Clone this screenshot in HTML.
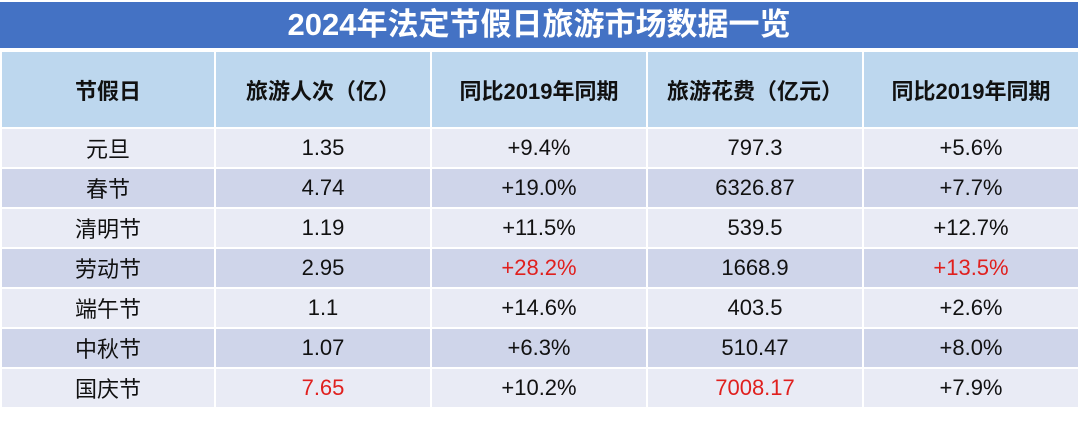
<!DOCTYPE html>
<html><head><meta charset="utf-8"><style>
body{margin:0;width:1080px;height:445px;background:#fff;overflow:hidden;font-family:"Liberation Sans","Noto Sans CJK SC",sans-serif;}
#title{position:absolute;left:0;top:2px;width:1078px;height:46px;background:#4472C4;color:#fff;font-weight:bold;font-size:31px;text-align:center;line-height:46px;}
table{position:absolute;left:0;top:50px;border-collapse:collapse;width:1078px;table-layout:fixed;}
td,th{border:2px solid #fff;text-align:center;color:#111;font-size:22px;padding:0;}
th{background:#BDD7EE;height:75px;font-weight:bold;}
tr.o td{background:#E9EBF5;height:38px;}
tr.e td{background:#CFD5EA;height:38px;}
.r{color:#E0201E;}
</style></head><body>
<div id="title">2024年法定节假日旅游市场数据一览</div>
<table>
<colgroup><col style="width:214px"><col style="width:216px"><col style="width:216px"><col style="width:216px"><col style="width:216px"></colgroup>
<tr><th>节假日</th><th>旅游人次（亿）</th><th>同比2019年同期</th><th>旅游花费（亿元）</th><th>同比2019年同期</th></tr>
<tr class="o"><td>元旦</td><td>1.35</td><td>+9.4%</td><td>797.3</td><td>+5.6%</td></tr>
<tr class="e"><td>春节</td><td>4.74</td><td>+19.0%</td><td>6326.87</td><td>+7.7%</td></tr>
<tr class="o"><td>清明节</td><td>1.19</td><td>+11.5%</td><td>539.5</td><td>+12.7%</td></tr>
<tr class="e"><td>劳动节</td><td>2.95</td><td class="r">+28.2%</td><td>1668.9</td><td class="r">+13.5%</td></tr>
<tr class="o"><td>端午节</td><td>1.1</td><td>+14.6%</td><td>403.5</td><td>+2.6%</td></tr>
<tr class="e"><td>中秋节</td><td>1.07</td><td>+6.3%</td><td>510.47</td><td>+8.0%</td></tr>
<tr class="o"><td>国庆节</td><td class="r">7.65</td><td>+10.2%</td><td class="r">7008.17</td><td>+7.9%</td></tr>
</table>
</body></html>
